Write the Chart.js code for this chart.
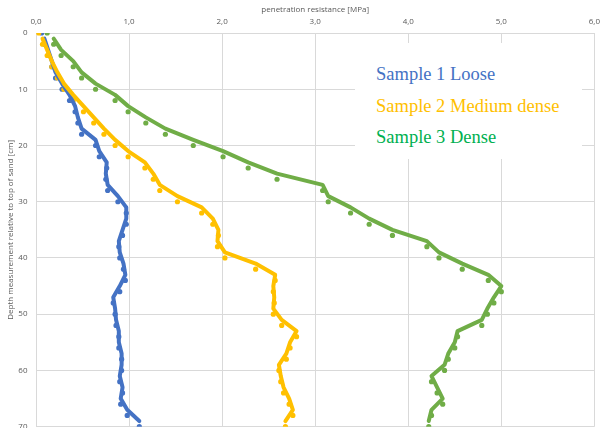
<!DOCTYPE html>
<html lang="en">
<head>
  <meta charset="UTF-8">
  <title>Penetration resistance</title>
  <script src="https://cdn.jsdelivr.net/npm/chart.js"></script>
  <style>
    body { margin: 0; background: #fff; }
    #wrap { position: relative; width: 601px; height: 428px; overflow: hidden; }
    #chart { position: absolute; left: 0; top: 0; }
    #legend {
      position: absolute; left: 355px; top: 43px; width: 227px; height: 116px;
      background: #fff; font-family: "Liberation Serif", "Times New Roman", serif; font-size: 18.5px;
    }
    #legend div { position: absolute; left: 21px; line-height: 20px; white-space: nowrap; }
  </style>
</head>
<body>
  <div id="wrap">
    <canvas id="chart" width="606" height="440"></canvas>
    <div id="legend">
      <div style="top:21px;color:#4472C4">Sample 1 Loose</div>
      <div style="top:52.5px;color:#FFC000">Sample 2 Medium dense</div>
      <div style="top:84px;color:#00B050">Sample 3 Dense</div>
    </div>
  </div>

  <script>
    // depth below top of sand [cm]
    const depth = [0, 2, 4, 6, 8, 10, 12, 14, 16, 18, 20, 22, 24, 26, 28, 30, 32, 34,
                   36, 38, 40, 42, 44, 46, 48, 50, 52, 54, 56, 58, 60, 62, 64, 66, 68, 70];

    // penetration resistance [MPa]
    const loose = [0.06, 0.09, 0.13, 0.17, 0.21, 0.28, 0.36, 0.42, 0.45, 0.49, 0.64, 0.68,
                   0.76, 0.75, 0.77, 0.88, 0.97, 0.97, 0.93, 0.89, 0.90, 0.94, 0.96, 0.90,
                   0.83, 0.85, 0.86, 0.89, 0.89, 0.92, 0.92, 0.90, 0.93, 0.91, 0.98, 1.11];
    const medium = [0.03, 0.07, 0.12, 0.17, 0.23, 0.30, 0.40, 0.51, 0.62, 0.73, 0.85, 0.99,
                    1.17, 1.26, 1.33, 1.52, 1.78, 1.90, 1.96, 1.95, 2.03, 2.36, 2.57, 2.55,
                    2.56, 2.55, 2.64, 2.80, 2.73, 2.69, 2.61, 2.63, 2.66, 2.72, 2.76, 2.68];
    const dense = [0.12, 0.19, 0.27, 0.40, 0.49, 0.64, 0.85, 0.99, 1.18, 1.39, 1.69, 2.01,
                   2.28, 2.59, 3.08, 3.14, 3.38, 3.58, 3.83, 4.20, 4.33, 4.58, 4.86, 5.00,
                   4.92, 4.85, 4.79, 4.53, 4.50, 4.43, 4.39, 4.25, 4.31, 4.37, 4.25, 4.22];

    const xTicks = [0, 1, 2, 3, 4, 5, 6];
    const yTicks = [0, 10, 20, 30, 40, 50, 60, 70];

    const colors = ['#4472C4', '#FFC000', '#70AD47'];
    const samples = [loose, medium, dense];

    function points(vals) {
      return vals.map((v, i) => ({ x: v, y: depth[i] }));
    }

    // Excel style 2 period moving average trendline (averages the depth values)
    function trend(vals) {
      const out = [];
      for (let i = 1; i < vals.length; i++) {
        out.push({ x: vals[i], y: (depth[i - 1] + depth[i]) / 2 });
      }
      return out;
    }

    const datasets = [];
    samples.forEach((vals, i) => {
      datasets.push({
        data: points(vals),
        showLine: false,
        pointRadius: 2.6,
        pointBorderWidth: 0,
        pointBackgroundColor: colors[i],
        order: 6 - i
      });
      datasets.push({
        data: trend(vals),
        showLine: true,
        borderColor: colors[i],
        borderWidth: 4,
        borderJoinStyle: 'round',
        borderCapStyle: 'round',
        pointRadius: 0,
        tension: 0,
        order: 3 - i
      });
    });

    const axisFont = { family: 'Open Sans', size: 8 };

    new Chart(document.getElementById('chart'), {
      type: 'scatter',
      data: { datasets: datasets },
      options: {
        responsive: false,
        animation: false,
        layout: { padding: { left: 0, top: 0, right: 10, bottom: 13 } },
        plugins: { legend: { display: false }, tooltip: { enabled: false } },
        scales: {
          x: {
            type: 'linear',
            position: 'top',
            min: 0,
            max: 6,
            afterBuildTicks: (s) => { s.ticks = xTicks.map(v => ({ value: v })); },
            afterFit: (s) => { s.height = 33; },
            ticks: {
              color: '#595959',
              font: axisFont,
              padding: 6,
              callback: (v) => v.toFixed(1).replace('.', ',')
            },
            grid: { color: '#d9d9d9', drawTicks: false },
            border: { color: '#d9d9d9' },
            title: {
              display: true,
              text: 'penetration resistance [MPa]',
              color: '#595959',
              font: axisFont,
              padding: { top: 5, bottom: 0 }
            }
          },
          y: {
            type: 'linear',
            reverse: true,
            min: 0,
            max: 70,
            afterBuildTicks: (s) => { s.ticks = yTicks.map(v => ({ value: v })); },
            afterFit: (s) => { s.width = 36; },
            ticks: { color: '#595959', font: axisFont, padding: 8.5 },
            grid: { color: '#d9d9d9', drawTicks: false },
            border: { color: '#d9d9d9' },
            title: {
              display: true,
              text: 'Depth measurement relative to top of sand [cm]',
              color: '#595959',
              font: axisFont,
              padding: { top: 6, bottom: 0 }
            }
          }
        }
      }
    });
  </script>
</body>
</html>
